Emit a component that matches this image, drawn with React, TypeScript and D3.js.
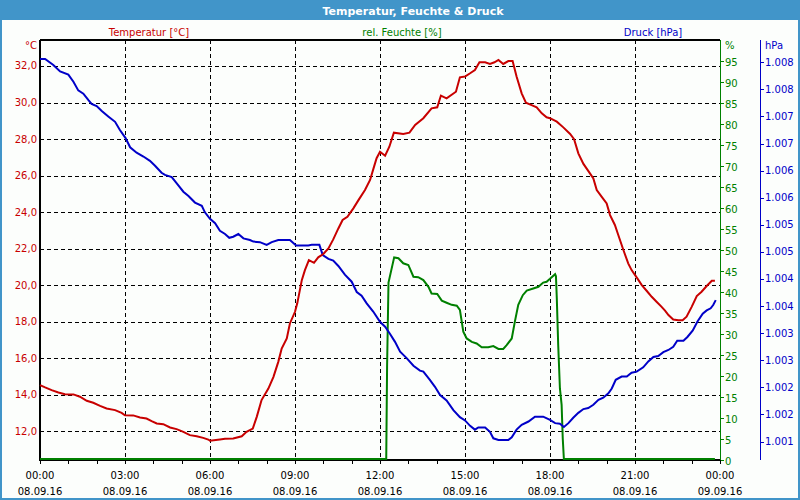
import React from "react";
import * as d3 from "d3";

// ---- Data (hours since 08.09.16 00:00, value) ----
const tempData: [number, number][] = [
  [0, 14.54], [0.18, 14.41], [0.41, 14.26], [0.65, 14.13], [0.88, 14.04], [1.18, 14.03], [1.41, 13.9],
  [1.65, 13.68], [1.88, 13.57], [2.12, 13.4], [2.35, 13.26], [2.65, 13.17], [2.88, 13.02], [3.0, 12.89],
  [3.29, 12.88], [3.53, 12.77], [3.76, 12.71], [3.94, 12.57], [4.12, 12.44], [4.35, 12.4], [4.59, 12.22],
  [4.82, 12.13], [5.06, 11.98], [5.29, 11.8], [5.53, 11.74], [5.76, 11.65], [5.94, 11.56], [6.0, 11.49],
  [6.35, 11.56], [6.53, 11.6], [6.82, 11.62], [7.12, 11.74], [7.29, 11.98], [7.51, 12.16], [7.65, 12.8],
  [7.82, 13.72], [8.06, 14.35], [8.24, 14.99], [8.41, 15.81], [8.53, 16.54], [8.71, 17.09], [8.82, 17.91],
  [9.0, 18.55], [9.08, 19.01], [9.24, 20.28], [9.35, 20.83], [9.49, 21.38], [9.67, 21.23], [9.82, 21.53],
  [10.0, 21.71], [10.18, 22.02], [10.35, 22.51], [10.53, 23.11], [10.68, 23.57], [10.85, 23.75],
  [11.06, 24.21], [11.24, 24.66], [11.47, 25.21], [11.65, 25.76], [11.79, 26.49], [11.88, 26.95],
  [12.0, 27.31], [12.18, 27.09], [12.33, 27.58], [12.49, 28.35], [12.82, 28.28], [13.04, 28.35],
  [13.24, 28.77], [13.53, 29.14], [13.82, 29.68], [14.02, 29.74], [14.15, 30.38], [14.35, 30.23],
  [14.68, 30.59], [14.82, 31.38], [15.0, 31.42], [15.18, 31.6], [15.35, 31.78], [15.51, 32.2],
  [15.71, 32.2], [15.88, 32.11], [16.04, 32.2], [16.18, 32.33], [16.35, 32.11], [16.53, 32.27],
  [16.68, 32.27], [16.82, 31.42], [17.0, 30.5], [17.15, 29.99], [17.35, 29.86], [17.53, 29.74],
  [17.71, 29.41], [17.88, 29.19], [18.0, 29.14], [18.24, 28.95], [18.47, 28.64], [18.71, 28.28],
  [18.85, 27.99], [19.0, 27.22], [19.18, 26.64], [19.41, 26.12], [19.53, 25.85], [19.65, 25.21],
  [19.82, 24.85], [20.0, 24.48], [20.12, 23.84], [20.29, 23.3], [20.41, 22.75], [20.59, 21.93],
  [20.76, 21.2], [20.88, 20.83], [21.04, 20.47], [21.24, 20.01], [21.41, 19.7], [21.59, 19.37],
  [21.76, 19.1], [21.94, 18.82], [22.06, 18.61], [22.18, 18.37], [22.35, 18.13], [22.53, 18.09],
  [22.68, 18.09], [22.82, 18.28], [23.0, 18.82], [23.18, 19.41], [23.35, 19.65], [23.53, 19.96],
  [23.71, 20.25], [23.82, 20.25],
];

const humidityData: [number, number][] = [
  [0, 0], [12.22, 0], [12.25, 22], [12.3, 42], [12.5, 48.0], [12.65, 47.8], [12.82, 46.6], [13.0, 46.2],
  [13.18, 43.4], [13.35, 43.3], [13.53, 42.6], [13.71, 41.0], [13.82, 39.4], [14.02, 39.3], [14.18, 37.7],
  [14.35, 37.2], [14.53, 36.7], [14.71, 36.5], [14.82, 35.5], [14.94, 30.3], [15.06, 28.7], [15.24, 27.9],
  [15.41, 27.5], [15.59, 26.6], [15.82, 26.6], [16.0, 26.9], [16.18, 26.2], [16.35, 26.2], [16.47, 27.1],
  [16.65, 28.7], [16.76, 32.7], [16.88, 36.7], [17.04, 39.0], [17.18, 40.1], [17.41, 40.6], [17.59, 41.0],
  [17.76, 42.0], [17.88, 42.2], [18.0, 42.9], [18.18, 44.0], [18.21, 43.5], [18.24, 38.3], [18.29, 27.1],
  [18.35, 16.8], [18.41, 12.9], [18.45, 4.9], [18.49, 0], [23.82, 0],
];

const pressureData: [number, number][] = [
  [0, 1008.06], [0.18, 1008.06], [0.47, 1007.95], [0.71, 1007.83], [1.0, 1007.77], [1.18, 1007.64],
  [1.35, 1007.48], [1.53, 1007.42], [1.71, 1007.3], [1.82, 1007.23], [2.0, 1007.19], [2.18, 1007.1],
  [2.41, 1007.0], [2.65, 1006.9], [2.82, 1006.75], [3.02, 1006.6], [3.18, 1006.43], [3.41, 1006.33],
  [3.65, 1006.26], [3.88, 1006.18], [4.06, 1006.09], [4.29, 1005.96], [4.41, 1005.92], [4.65, 1005.88],
  [4.82, 1005.77], [5.06, 1005.61], [5.24, 1005.53], [5.47, 1005.41], [5.71, 1005.35], [5.82, 1005.23],
  [6.0, 1005.11], [6.18, 1005.03], [6.35, 1004.89], [6.53, 1004.83], [6.68, 1004.76], [6.82, 1004.78],
  [7.0, 1004.83], [7.18, 1004.75], [7.41, 1004.72], [7.53, 1004.69], [7.76, 1004.68], [8.0, 1004.63],
  [8.18, 1004.68], [8.41, 1004.72], [8.82, 1004.72], [9.04, 1004.62], [9.47, 1004.62], [9.59, 1004.63],
  [9.86, 1004.63], [9.98, 1004.44], [10.18, 1004.37], [10.35, 1004.34], [10.53, 1004.24], [10.76, 1004.08],
  [11.0, 1003.95], [11.18, 1003.76], [11.35, 1003.69], [11.53, 1003.55], [11.76, 1003.4], [12.0, 1003.21],
  [12.18, 1003.12], [12.35, 1002.99], [12.53, 1002.84], [12.71, 1002.66], [12.94, 1002.54], [13.18, 1002.4],
  [13.41, 1002.31], [13.53, 1002.29], [13.76, 1002.14], [13.94, 1002.01], [14.12, 1001.86], [14.35, 1001.76],
  [14.59, 1001.58], [14.82, 1001.45], [15.0, 1001.39], [15.18, 1001.29], [15.35, 1001.22], [15.47, 1001.26],
  [15.71, 1001.26], [15.88, 1001.18], [16.0, 1001.06], [16.18, 1001.03], [16.53, 1001.03], [16.65, 1001.08],
  [16.82, 1001.22], [17.0, 1001.31], [17.24, 1001.37], [17.47, 1001.46], [17.76, 1001.46], [18.0, 1001.4],
  [18.18, 1001.34], [18.35, 1001.33], [18.49, 1001.27], [18.65, 1001.34], [18.82, 1001.44], [19.0, 1001.53],
  [19.18, 1001.6], [19.35, 1001.62], [19.53, 1001.68], [19.71, 1001.77], [19.88, 1001.81], [20.06, 1001.89],
  [20.18, 1001.98], [20.32, 1002.14], [20.53, 1002.2], [20.71, 1002.2], [20.88, 1002.27], [21.06, 1002.29],
  [21.29, 1002.37], [21.47, 1002.48], [21.65, 1002.56], [21.82, 1002.58], [22.0, 1002.65], [22.18, 1002.69],
  [22.35, 1002.75], [22.49, 1002.86], [22.71, 1002.86], [22.85, 1002.93], [23.04, 1003.05], [23.2, 1003.21],
  [23.39, 1003.36], [23.53, 1003.42], [23.67, 1003.46], [23.76, 1003.52], [23.85, 1003.61],
];

const tempTicks = [12, 14, 16, 18, 20, 22, 24, 26, 28, 30, 32];
const humidityTicks = [0, 5, 10, 15, 20, 25, 30, 35, 40, 45, 50, 55, 60, 65, 70, 75, 80, 85, 90, 95];
const pressureTicks = [1001, 1001.5, 1002, 1002.5, 1003, 1003.5, 1004, 1004.5, 1005, 1005.5, 1006, 1006.5, 1007, 1007.5, 1008];
const timeTicks = [0, 3, 6, 9, 12, 15, 18, 21, 24];
const timeLabels = ["00:00", "03:00", "06:00", "09:00", "12:00", "15:00", "18:00", "21:00", "00:00"];
const dateLabels = ["08.09.16", "08.09.16", "08.09.16", "08.09.16", "08.09.16", "08.09.16", "08.09.16", "08.09.16", "09.09.16"];
const hourTicks = d3.range(0, 25);

const title = "Temperatur, Feuchte & Druck";
const legendLabels = ["Temperatur [°C]", "rel. Feuchte [%]", "Druck [hPa]"];

const RED = "#c80000";
const GREEN = "#008000";
const BLUE = "#0000c8";
const FRAME = "#4195c9";
const FONT = "'DejaVu Sans', Verdana, sans-serif";

const de = d3.formatLocale({ decimal: ",", thousands: ".", grouping: [3], currency: ["", " €"] });
const fmtTemp = de.format(",.1f");
const fmtP = de.format(",.0f");

export default function App() {
  const left = 40, right = 720, top = 40, bottom = 460;
  const x = d3.scaleLinear().domain([0, 24]).range([left, right]);
  const yT = d3.scaleLinear().domain([10.44, 33.42]).range([bottom, top]);
  const yH = d3.scaleLinear().domain([0, 100]).range([bottom, top]);
  const yP = d3.scaleLinear().domain([1000.66, 1008.41]).range([bottom, top]);

  const lineT = d3.line<[number, number]>().x(d => x(d[0])).y(d => yT(d[1]));
  const lineH = d3.line<[number, number]>().x(d => x(d[0])).y(d => yH(d[1]));
  const lineP = d3.line<[number, number]>().x(d => x(d[0])).y(d => yP(d[1]));

  return (
    <svg width={800} height={500} style={{ position: "absolute", left: 0, top: 0, display: "block" }}
      fontFamily={FONT} fontSize={10}>
      <rect x={0} y={0} width={800} height={500} fill="#fcfefc" />
      <rect x={0} y={0} width={800} height={20} fill={FRAME} />
      <rect x={1} y={1} width={798} height={498} fill="none" stroke={FRAME} strokeWidth={2} />
      <text x={413} y={14.5} fill="#ffffff" fontWeight="bold" fontSize={11} textAnchor="middle">{title}</text>

      <text x={149} y={36} fill={RED} textAnchor="middle">{legendLabels[0]}</text>
      <text x={402} y={36} fill={GREEN} textAnchor="middle">{legendLabels[1]}</text>
      <text x={653} y={36} fill={BLUE} textAnchor="middle">{legendLabels[2]}</text>

      {/* grid */}
      <g stroke="#000" strokeWidth={1} strokeDasharray="4,3">
        {tempTicks.map(t => (
          <line key={"h" + t} x1={left} x2={right} y1={Math.round(yT(t)) + 0.5} y2={Math.round(yT(t)) + 0.5} />
        ))}
        {timeTicks.slice(1, -1).map(t => (
          <line key={"v" + t} x1={Math.round(x(t)) + 0.5} x2={Math.round(x(t)) + 0.5} y1={top} y2={bottom} />
        ))}
      </g>

      {/* left axis labels */}
      <text x={37} y={49} fill={RED} textAnchor="end">°C</text>
      {tempTicks.map(t => (
        <text key={"tl" + t} x={37} y={yT(t)} dy="0.35em" fill={RED} textAnchor="end">{fmtTemp(t)}</text>
      ))}

      {/* humidity axis */}
      <line x1={720.5} x2={720.5} y1={top} y2={bottom + 2} stroke={GREEN} strokeWidth={1} />
      <text x={725} y={49} fill={GREEN}>%</text>
      {humidityTicks.map(t => (
        <g key={"h" + t}>
          <line x1={720} x2={724} y1={Math.round(yH(t)) + 0.5} y2={Math.round(yH(t)) + 0.5} stroke={GREEN} />
          <text x={725} y={yH(t) + 1} dy="0.35em" fill={GREEN}>{t}</text>
        </g>
      ))}

      {/* pressure axis */}
      <line x1={760.5} x2={760.5} y1={top} y2={bottom} stroke={BLUE} strokeWidth={1} />
      <text x={765} y={49} fill={BLUE}>hPa</text>
      {pressureTicks.map(t => (
        <g key={"p" + t}>
          <line x1={760} x2={764} y1={Math.round(yP(t)) + 0.5} y2={Math.round(yP(t)) + 0.5} stroke={BLUE} />
          <text x={765} y={yP(t)} dy="0.35em" fill={BLUE}>{fmtP(t)}</text>
        </g>
      ))}

      {/* x axis */}
      {hourTicks.map(h => (
        <line key={"xt" + h} x1={Math.round(x(h)) + 0.5} x2={Math.round(x(h)) + 0.5} y1={bottom} y2={bottom + 4} stroke="#000" />
      ))}
      {timeTicks.map((t, i) => (
        <g key={"xl" + i}>
          <text x={x(t)} y={479} textAnchor="middle" fill="#000">{timeLabels[i]}</text>
          <text x={x(t)} y={495} textAnchor="middle" fill="#000">{dateLabels[i]}</text>
        </g>
      ))}

      {/* frame */}
      <g stroke="#000" strokeWidth={2} fill="none">
        <line x1={left} x2={right} y1={top} y2={top} />
        <line x1={left} x2={left} y1={top} y2={bottom + 1} />
        <line x1={left} x2={right} y1={bottom} y2={bottom} />
      </g>

      {/* series */}
      <path d={lineH(humidityData) || ""} fill="none" stroke={GREEN} strokeWidth={2} transform="translate(0,-1)" />
      <path d={lineP(pressureData) || ""} fill="none" stroke={BLUE} strokeWidth={2} />
      <path d={lineT(tempData) || ""} fill="none" stroke={RED} strokeWidth={2} />
    </svg>
  );
}
